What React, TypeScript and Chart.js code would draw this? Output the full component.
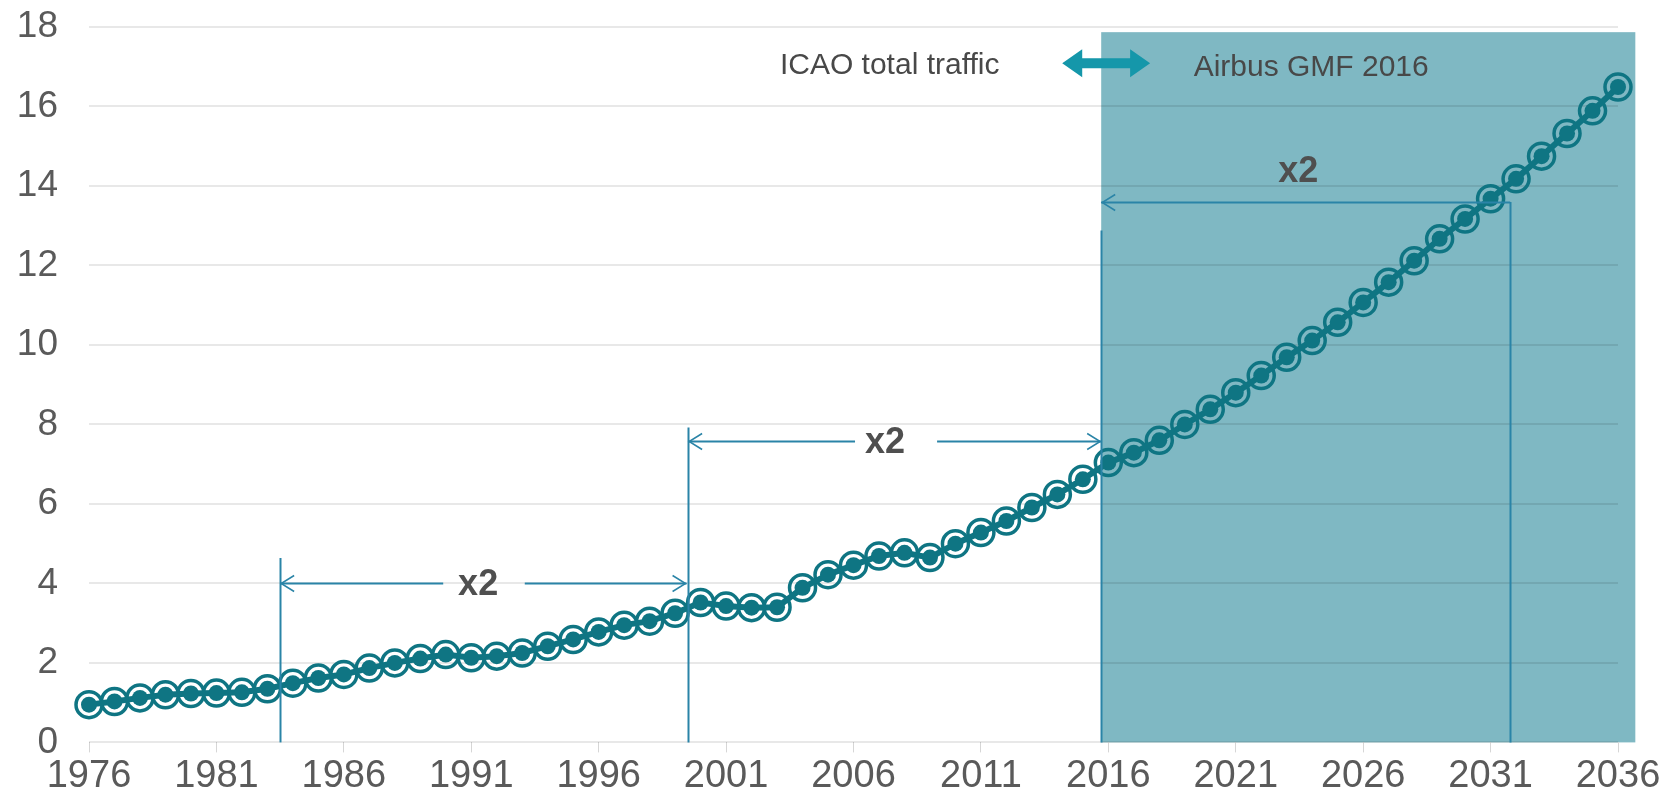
import React, { useEffect, useRef } from "react";
import { Chart, registerables } from "chart.js";

Chart.register(...registerables);

// ---------- data ----------
const years = [
  1976, 1977, 1978, 1979, 1980, 1981, 1982, 1983, 1984, 1985,
  1986, 1987, 1988, 1989, 1990, 1991, 1992, 1993, 1994, 1995,
  1996, 1997, 1998, 1999, 2000, 2001, 2002, 2003, 2004, 2005,
  2006, 2007, 2008, 2009, 2010, 2011, 2012, 2013, 2014, 2015,
  2016, 2017, 2018, 2019, 2020, 2021, 2022, 2023, 2024, 2025,
  2026, 2027, 2028, 2029, 2030, 2031, 2032, 2033, 2034, 2035, 2036,
];

const traffic = [
  0.95, 1.03, 1.12, 1.2, 1.23, 1.24, 1.26, 1.35, 1.49, 1.62,
  1.71, 1.87, 2.0, 2.11, 2.21, 2.13, 2.17, 2.25, 2.42, 2.59,
  2.78, 2.95, 3.05, 3.25, 3.52, 3.43, 3.39, 3.4, 3.89, 4.22,
  4.46, 4.69, 4.77, 4.65, 5.0, 5.28, 5.57, 5.91, 6.24, 6.62,
  7.04, 7.29, 7.6, 8.0, 8.38, 8.8, 9.23, 9.69, 10.11, 10.57,
  11.07, 11.58, 12.12, 12.67, 13.17, 13.68, 14.18, 14.75, 15.32, 15.89, 16.49,
];

const xTickYears = [1976, 1981, 1986, 1991, 1996, 2001, 2006, 2011, 2016, 2021, 2026, 2031, 2036];
const yTickValues = [0, 2, 4, 6, 8, 10, 12, 14, 16, 18];

const forecastLabel = "Airbus GMF 2016";
const historyLabel = "ICAO total traffic";
const doublingLabel = "x2";

// forecast band (years / values)
const bandStartYear = 2015.72;
const bandEndYear = 2036.68;
const bandTop = 17.87;

// doubling markers (years / values)
const doublings = [
  { from: 1983.5, to: 1999.45, level: 4.0, labelAt: 1991.27, gapFrom: 1989.9, gapTo: 1993.1, lineTop: 4.64, rightHead: true, labelLevel: 3.95 },
  { from: 1999.51, to: 2015.72, level: 7.59, labelAt: 2007.24, gapFrom: 2006.06, gapTo: 2009.28, lineTop: 7.92, rightHead: true, labelLevel: 7.53 },
  { from: 2015.72, to: 2031.77, level: 13.6, labelAt: 2023.45, gapFrom: 0, gapTo: 0, lineTop: 12.88, rightHead: false, labelLevel: 14.35 },
];
const endLine = { year: 2031.77, top: 13.6 };

const headerArrow = { from: 2014.19, to: 2017.64, level: 17.09 };
const historyLabelPos = { year: 2007.42, level: 17.03 };
const forecastLabelPos = { year: 2023.96, level: 16.98 };

// ---------- styles ----------
const DARK = "#0f7583";
const SHADE = "#7fb8c3";
const ANNOT = "#2a84a7";
const ARROW = "#1597aa";
const FONT = "'Liberation Sans', Arial, sans-serif";
const TICK_COLOR = "#5a5a5a";

const points = years.map((yr, i) => ({ x: yr, y: traffic[i] }));

function chevron(ctx: CanvasRenderingContext2D, x: number, y: number, dir: number) {
  ctx.beginPath();
  ctx.moveTo(x - dir * 13, y - 8);
  ctx.lineTo(x, y);
  ctx.lineTo(x - dir * 13, y + 8);
  ctx.stroke();
}

const annotationPlugin = {
  id: "gmfAnnotations",
  beforeDraw(chart: any) {
    const { ctx, scales } = chart;
    const x = scales.x;
    const y = scales.y;
    ctx.save();
    const x0 = x.getPixelForValue(bandStartYear);
    const x1 = x.getPixelForValue(bandEndYear);
    const y0 = y.getPixelForValue(bandTop);
    const y1 = y.getPixelForValue(0);
    ctx.fillStyle = SHADE;
    ctx.fillRect(x0, y0, x1 - x0, y1 - y0);
    ctx.restore();
  },
  afterDraw(chart: any) {
    const { ctx, scales } = chart;
    const x = scales.x;
    const y = scales.y;
    const base = y.getPixelForValue(0);
    ctx.save();
    ctx.strokeStyle = ANNOT;
    ctx.lineWidth = 2;

    // vertical lines
    const verticals = doublings.map((d) => ({ year: d.from, top: d.lineTop }));
    verticals.push({ year: endLine.year, top: endLine.top });
    verticals.forEach((v) => {
      const px = Math.round(x.getPixelForValue(v.year)) + 0.5;
      ctx.beginPath();
      ctx.moveTo(px, y.getPixelForValue(v.top));
      ctx.lineTo(px, base);
      ctx.stroke();
    });

    // horizontal doubling arrows
    doublings.forEach((d) => {
      const py = Math.round(y.getPixelForValue(d.level)) + 0.5;
      const xa = x.getPixelForValue(d.from);
      const xb = x.getPixelForValue(d.to);
      ctx.lineWidth = 2;
      ctx.beginPath();
      if (d.gapTo > d.gapFrom) {
        ctx.moveTo(xa, py);
        ctx.lineTo(x.getPixelForValue(d.gapFrom), py);
        ctx.moveTo(x.getPixelForValue(d.gapTo), py);
        ctx.lineTo(xb, py);
      } else {
        ctx.moveTo(xa, py);
        ctx.lineTo(xb, py);
      }
      ctx.stroke();
      ctx.lineWidth = 1.5;
      chevron(ctx, xa + 1, py, -1);
      if (d.rightHead) chevron(ctx, xb - 1, py, 1);

      ctx.fillStyle = "#4f4f4f";
      ctx.font = `bold 36px ${FONT}`;
      ctx.textAlign = "center";
      ctx.textBaseline = "middle";
      ctx.fillText(doublingLabel, x.getPixelForValue(d.labelAt), y.getPixelForValue(d.labelLevel));
    });

    // header double arrow
    const hy = y.getPixelForValue(headerArrow.level);
    const hx0 = x.getPixelForValue(headerArrow.from);
    const hx1 = x.getPixelForValue(headerArrow.to);
    const headLen = 20;
    const headHalf = 14;
    const shaftHalf = 5;
    ctx.fillStyle = ARROW;
    ctx.beginPath();
    ctx.moveTo(hx0, hy);
    ctx.lineTo(hx0 + headLen, hy - headHalf);
    ctx.lineTo(hx0 + headLen, hy - shaftHalf);
    ctx.lineTo(hx1 - headLen, hy - shaftHalf);
    ctx.lineTo(hx1 - headLen, hy - headHalf);
    ctx.lineTo(hx1, hy);
    ctx.lineTo(hx1 - headLen, hy + headHalf);
    ctx.lineTo(hx1 - headLen, hy + shaftHalf);
    ctx.lineTo(hx0 + headLen, hy + shaftHalf);
    ctx.lineTo(hx0 + headLen, hy + headHalf);
    ctx.closePath();
    ctx.fill();

    // header labels
    ctx.fillStyle = "#484848";
    ctx.font = `30px ${FONT}`;
    ctx.textAlign = "center";
    ctx.textBaseline = "middle";
    ctx.fillText(historyLabel, x.getPixelForValue(historyLabelPos.year), y.getPixelForValue(historyLabelPos.level));
    ctx.fillText(forecastLabel, x.getPixelForValue(forecastLabelPos.year), y.getPixelForValue(forecastLabelPos.level));

    ctx.restore();
  },
};

export default function App() {
  const canvasRef = useRef<HTMLCanvasElement>(null);

  useEffect(() => {
    const canvas = canvasRef.current;
    if (!canvas) return;
    const chart = new Chart(canvas, {
      type: "line",
      data: {
        datasets: [
          {
            label: "traffic",
            data: points,
            borderColor: DARK,
            borderWidth: 6,
            tension: 0,
            pointRadius: 8,
            pointBackgroundColor: DARK,
            pointBorderWidth: 0,
            pointHoverRadius: 8,
            clip: false as any,
            order: 1,
          },
          {
            label: "rings",
            data: points,
            showLine: false,
            pointRadius: 13,
            pointBorderWidth: 3.5,
            pointBorderColor: DARK,
            pointBackgroundColor: "rgba(0,0,0,0)",
            pointHoverRadius: 13,
            clip: false as any,
            order: 2,
          },
        ],
      },
      options: {
        responsive: false,
        maintainAspectRatio: false,
        animation: false,
        devicePixelRatio: 1,
        events: [],
        layout: { padding: { left: 17, right: 62, top: 27, bottom: 0 } },
        plugins: {
          legend: { display: false },
          tooltip: { enabled: false },
          title: { display: false },
        },
        scales: {
          x: {
            type: "linear",
            min: 1976,
            max: 2036,
            afterBuildTicks: (axis: any) => {
              axis.ticks = xTickYears.map((v) => ({ value: v }));
            },
            ticks: {
              autoSkip: false,
              maxRotation: 0,
              padding: 1,
              color: TICK_COLOR,
              font: { family: FONT, size: 38 },
              callback: (v: any) => String(v),
            },
            grid: {
              display: true,
              drawOnChartArea: false,
              drawTicks: true,
              tickLength: 10,
              color: "#d6d6d6",
              lineWidth: 1,
            },
            border: { display: false },
          },
          y: {
            type: "linear",
            min: 0,
            max: 18,
            afterBuildTicks: (axis: any) => {
              axis.ticks = yTickValues.map((v) => ({ value: v }));
            },
            afterFit: (axis: any) => {
              axis.width = 72;
              axis.paddingTop = 0;
              axis.paddingBottom = 0;
            },
            ticks: {
              padding: 31,
              color: TICK_COLOR,
              font: { family: FONT, size: 37 },
              callback: (v: any) => String(v),
            },
            grid: {
              drawTicks: false,
              color: "rgba(0,0,0,0.09)",
              lineWidth: 2,
            },
            border: { display: false },
          },
        },
      },
      plugins: [annotationPlugin],
    } as any);
    return () => chart.destroy();
  }, []);

  return (
    <div style={{ position: "fixed", left: 0, top: 0, width: 1680, height: 800, background: "#ffffff" }}>
      <canvas ref={canvasRef} width={1680} height={800} style={{ display: "block" }} />
    </div>
  );
}
